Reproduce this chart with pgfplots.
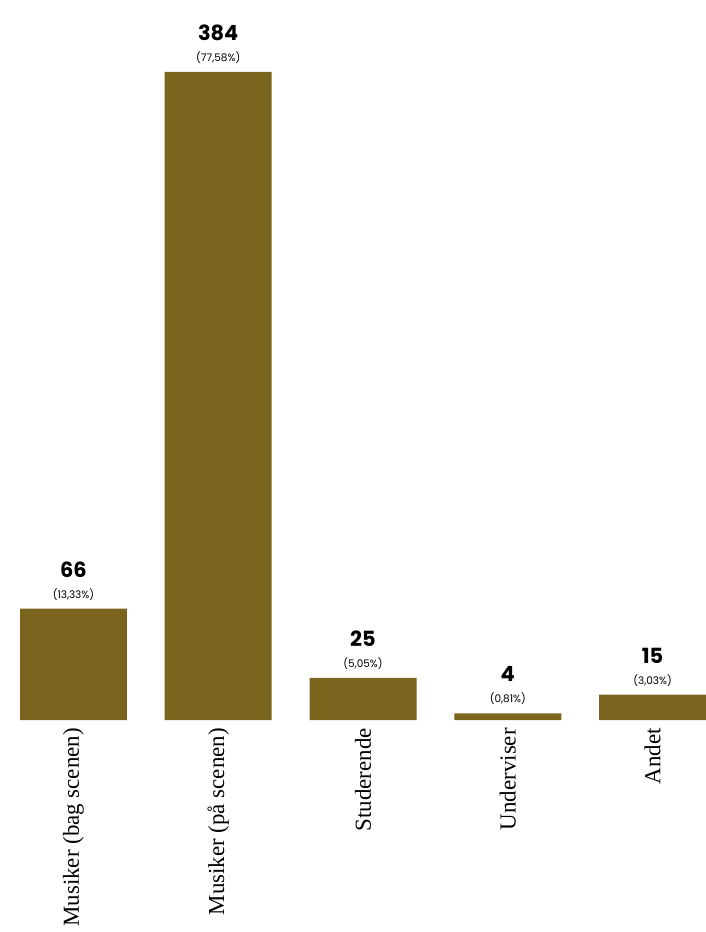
\documentclass[border=0pt]{standalone}
\usepackage{fontspec}
\setmainfont{Liberation Serif}
\newfontfamily\pop{Poppins}
\usepackage{pgfplots}
\pgfplotsset{compat=1.18}
\definecolor{barc}{RGB}{122,100,30}
\begin{document}
\begin{tikzpicture}
\useasboundingbox (-20bp,-212bp) rectangle (686bp,720bp);
\begin{axis}[
  at={(0,0)}, anchor=south west, scale only axis,
  width=686bp, height=648bp,
  xmin=-0.369, xmax=4.369, ymin=0, ymax=384,
  ybar, bar width=107bp,
  hide y axis,
  axis x line*=bottom,
  x axis line style={draw=none},
  major tick length=0pt,
  /pgf/number format/assume math mode=true,
  xtick={0,1,2,3,4},
  xticklabels={Musiker (bag scenen), Musiker (på scenen), Studerende, Underviser, Andet},
  xticklabel style={rotate=90, anchor=east, font=\fontsize{23}{26}\selectfont, inner sep=0pt, xshift=-8bp},
  point meta=explicit symbolic,
  nodes near coords={{\pop\bfseries\fontsize{21}{23}\selectfont\pgfmathprintnumber{\pgfkeysvalueof{/data point/y}}}\\[9bp]{\pop\fontsize{10.5}{12}\selectfont(\pgfplotspointmeta\%)}},
  every node near coord/.append style={align=center, anchor=south, yshift=5bp, text=black},
]
\addplot[fill=barc, draw=none] coordinates {(0,66) [13,33] (1,384) [77,58] (2,25) [5,05] (3,4) [0,81] (4,15) [3,03]};
\end{axis}
\end{tikzpicture}
\end{document}
